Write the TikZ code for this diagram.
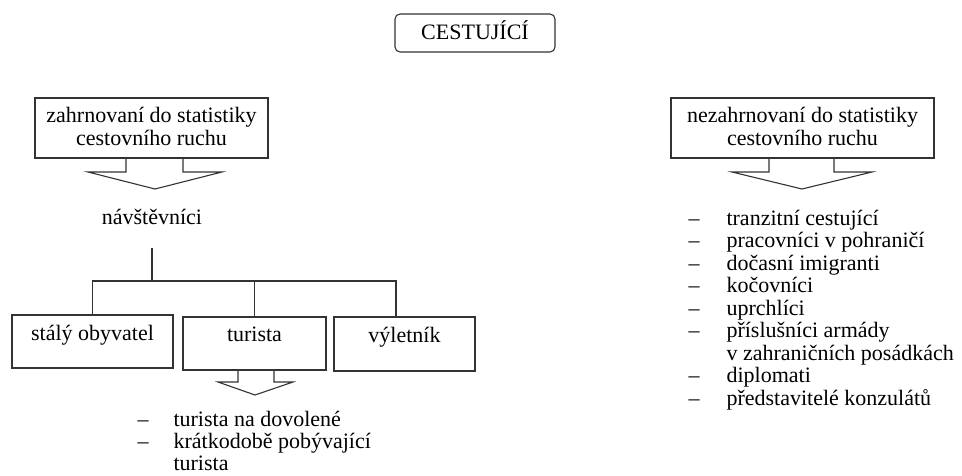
\documentclass[tikz,border=0pt]{standalone}
\usepackage{fontspec}
\setmainfont{Liberation Serif}
\newfontfamily\tnrfont{Liberation Serif}
\usetikzlibrary{calc}
\begin{document}
\begin{tikzpicture}[x=1pt,y=-1pt,line width=1.1pt,
  box/.style={draw=black!80, line width=1.1pt, inner sep=0pt},
  txt/.style={font=\tnrfont\fontsize{22}{22.5}\selectfont, inner sep=0pt, anchor=base},
  ltxt/.style={txt, anchor=base west},
  conn/.style={draw=black!80, line width=1.1pt},
  blockarr/.style={draw=black!80, line width=1.1pt, line join=miter}]
\useasboundingbox (0,0) rectangle (962,475);

% top box
\node[box, rounded corners=5pt, minimum width=160pt, minimum height=38pt] (cest) at (475,33) {};
\node[txt] (cestt) at (475,39) {CESTUJÍCÍ};

% left header box
\node[box, minimum width=233pt, minimum height=60pt] (zahr) at (151.5,128) {};
\node[txt] (zahr1) at (151.5,122) {zahrnovaní do statistiky};
\node[txt] (zahr2) at (151.5,145) {cestovního ruchu};
\draw[blockarr] (126,0 |- zahr.south) -- (126,172) -- (88,172) -- (155,189) -- (222,172) -- (183,172) -- (183,0 |- zahr.south);

% right header box
\node[box, minimum width=263pt, minimum height=60pt] (nezahr) at (802.5,128) {};
\node[txt] (nezahr1) at (802.5,122) {nezahrnovaní do statistiky};
\node[txt] (nezahr2) at (802.5,145) {cestovního ruchu};
\draw[blockarr] (769,0 |- nezahr.south) -- (769,172) -- (732,172) -- (802,189) -- (872,172) -- (834,172) -- (834,0 |- nezahr.south);

% navstevnici
\node[txt] (nav) at (152,224) {návštěvníci};
\coordinate (navb) at (152,248);
\coordinate (fork) at (152,281);

% three boxes
\node[box, minimum width=161pt, minimum height=53pt] (staly) at (92.5,341.5) {};
\node[txt] (stalyt) at (92.5,340) {stálý obyvatel};
\node[box, minimum width=143pt, minimum height=53pt] (tur) at (254.5,343.5) {};
\node[txt] (turt) at (254.5,341) {turista};
\node[box, minimum width=141pt, minimum height=54pt] (vyl) at (404.5,344) {};
\node[txt] (vylt) at (404.5,342) {výletník};

\draw[conn] (navb) -- (fork);
\draw[conn] (staly.north) |- (fork) -| (396,0 |- vyl.north);
\draw[conn] (tur.north) -- (tur.north |- fork);

\draw[blockarr] (238,0 |- tur.south) -- (238,382) -- (218,382) -- (255,395) -- (293,382) -- (274,382) -- (274,0 |- tur.south);

% bottom list
\node[ltxt] (bd1) at (137,426) {–};
\node[ltxt] (bt1) at (173,426) {turista na dovolené};
\node[ltxt] (bd2) at (137,448.5) {–};
\node[ltxt] (bt2) at (173,448.5) {krátkodobě pobývající};
\node[ltxt] (bt3) at (173,470.5) {turista};

% right list
\foreach \i/\y/\d/\t in {1/225/–/tranzitní cestující,
  2/247.5/–/pracovníci v pohraničí,
  3/270/–/dočasní imigranti,
  4/292.5/–/kočovníci,
  5/315/–/uprchlíci,
  6/337.5/–/příslušníci armády,
  7/360//v zahraničních posádkách,
  8/382.5/–/diplomati,
  9/405/–/představitelé konzulátů}{
  \node[ltxt] (rd\i) at (688,\y) {\d};
  \node[ltxt] (rt\i) at (726,\y) {\t};
}
\end{tikzpicture}
\end{document}
